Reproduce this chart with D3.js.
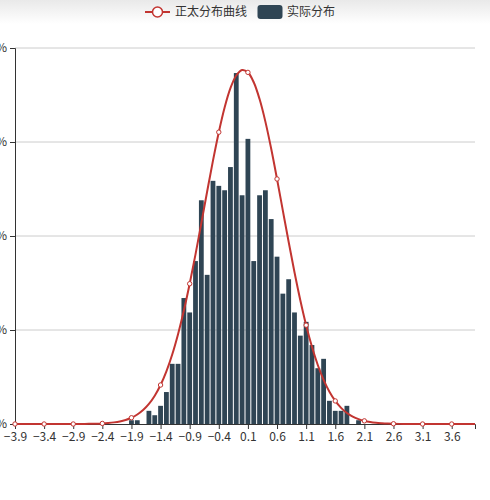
<!DOCTYPE html>
<html>
<head>
<meta charset="utf-8">
<script src="https://cdn.jsdelivr.net/npm/d3@7"></script>
<style>
    body { margin: 0; background: #fff; }
    text { font-family: "Microsoft YaHei", "Noto Sans CJK SC", sans-serif; }
</style>
</head>
<body>
<div id="DistChart"></div>
<script>
// x positions of the histogram bins (bin width 0.1)
var binX = [-1.9, -1.8, -1.7, -1.6, -1.5, -1.4, -1.3, -1.2, -1.1, -1.0,
    -0.9, -0.8, -0.7, -0.6, -0.5, -0.4, -0.3, -0.2, -0.1, 0.0,
    0.1, 0.2, 0.3, 0.4, 0.5, 0.6, 0.7, 0.8, 0.9, 1.0,
    1.1, 1.2, 1.3, 1.4, 1.5, 1.6, 1.7, 1.8, 1.9, 2.0];
// 实际分布 (%)
var binValues = [0.06, 0.06, 0, 0.21, 0.14, 0.29, 0.51, 0.96, 0.96, 2.01,
    1.78, 2.60, 3.57, 2.38, 3.88, 3.80, 3.73, 4.10, 5.60, 3.65,
    4.55, 2.60, 3.65, 3.73, 3.27, 2.67, 2.08, 2.31, 1.78, 1.41,
    1.63, 1.26, 0.89, 1.04, 0.37, 0.21, 0.21, 0.29, 0, 0.06];

// 正太分布曲线 (%), sampled every 0.1 from -3.9 to 4.0
var curveX = d3.range(80).map(function (i) { return (i - 39) / 10; });
var curveValues = [0, 0, 0, 0, 0, 0, 0, 0, 0, 0, 0, 0, 0.001, 0.003,
    0.005, 0.009, 0.016, 0.026, 0.041, 0.065, 0.100, 0.151, 0.222, 0.320,
    0.451, 0.622, 0.840, 1.109, 1.433, 1.810, 2.238, 2.707, 3.205, 3.710,
    4.203, 4.657, 5.051, 5.359, 5.561, 5.648, 5.611, 5.453, 5.185, 4.825,
    4.392, 3.910, 3.406, 2.904, 2.422, 1.976, 1.577, 1.232, 0.941, 0.703,
    0.514, 0.368, 0.258, 0.176, 0.118, 0.078, 0.050, 0.031, 0.019, 0.012,
    0.007, 0.004, 0.002, 0.001,
    0, 0, 0, 0, 0, 0, 0, 0, 0, 0, 0, 0];

var xTicks = [-3.9, -3.4, -2.9, -2.4, -1.9, -1.4, -0.9, -0.4, 0.1, 0.6, 1.1, 1.6, 2.1, 2.6, 3.1, 3.6];
var yTicks = [0, 1.5, 3, 4.5, 6];

var margin = { top: 48, right: 15, bottom: 76, left: 15 },
    width = 490 - margin.left - margin.right,
    height = 500 - margin.top - margin.bottom;

var red = "#c23531", navy = "#2f4554";

var svg = d3.select("#DistChart")
    .append("svg")
    .attr("width", 490)
    .attr("height", 500);

// faint shade across the top
var grad = svg.append("defs").append("linearGradient")
    .attr("id", "topShade").attr("x1", 0).attr("y1", 0).attr("x2", 0).attr("y2", 1);
grad.append("stop").attr("offset", "0%").attr("stop-color", "#e9e9e9");
grad.append("stop").attr("offset", "100%").attr("stop-color", "#ffffff");
svg.append("rect").attr("width", 490).attr("height", 24).attr("fill", "url(#topShade)");

var chart = svg.append("g")
    .attr("transform", "translate(" + margin.left + "," + margin.top + ")");

var xScale = d3.scaleLinear().domain([-3.9, 4.0]).range([0, width]);
var yScale = d3.scaleLinear().domain([0, 6]).range([height, 0]);

// grid lines
chart.selectAll(".grid")
    .data(yTicks.slice(1))
    .enter()
    .append("line")
    .attr("x1", 0).attr("x2", width)
    .attr("y1", function (d) { return yScale(d); })
    .attr("y2", function (d) { return yScale(d); })
    .attr("stroke", "#ccc");

// bars
var barW = 4.8;
chart.selectAll(".bar")
    .data(binX)
    .enter()
    .append("rect")
    .attr("class", "bar")
    .attr("x", function (d) { return xScale(d) - barW / 2; })
    .attr("y", function (d, i) { return yScale(binValues[i]); })
    .attr("width", barW)
    .attr("height", function (d, i) { return height - yScale(binValues[i]); })
    .attr("fill", navy);

//y axis
var yAxis = chart.append("g")
    .call(d3.axisLeft(yScale).tickValues(yTicks).tickSize(5).tickPadding(3)
        .tickFormat(function (d) { return d + "%"; }));
yAxis.select(".domain").attr("stroke", "#333");
yAxis.selectAll("line").attr("stroke", "#333");
yAxis.selectAll("text").attr("fill", "#333").attr("font-size", "12px");

//x axis
var xAxis = chart.append("g")
    .attr("transform", "translate(0," + height + ")")
    .call(d3.axisBottom(xScale).tickValues(xTicks).tickSize(5).tickPadding(3)
        .tickFormat(d3.format(".1f")));
xAxis.select(".domain").attr("stroke", "#333");
xAxis.selectAll("line").attr("stroke", "#333");
xAxis.selectAll("text").attr("fill", "#333").attr("font-size", "12px");

// normal curve
var curvePts = curveX.map(function (x, i) { return [x, curveValues[i]]; });
chart.append("path")
    .datum(curvePts)
    .attr("fill", "none")
    .attr("stroke", red)
    .attr("stroke-width", 2)
    .attr("d", d3.line()
        .x(function (d) { return xScale(d[0]); })
        .y(function (d) { return yScale(d[1]); })
        .curve(d3.curveCatmullRom));

// only every 5th symbol is shown
chart.selectAll(".dot")
    .data(curvePts.filter(function (d, i) { return i % 5 === 0; }))
    .enter()
    .append("circle")
    .attr("cx", function (d) { return xScale(d[0]); })
    .attr("cy", function (d) { return yScale(d[1]); })
    .attr("r", 2.2)
    .attr("fill", "#fff")
    .attr("stroke", red)
    .attr("stroke-width", 1);

// legend
var legend = svg.append("g").attr("transform", "translate(0,12)");
legend.append("line")
    .attr("x1", 145).attr("x2", 170)
    .attr("stroke", red).attr("stroke-width", 2);
legend.append("circle")
    .attr("cx", 157.5).attr("r", 5)
    .attr("fill", "#fff").attr("stroke", red).attr("stroke-width", 1.5);
legend.append("text")
    .attr("x", 175).attr("dy", "0.35em")
    .attr("font-size", "12px").attr("fill", "#333")
    .text("正太分布曲线");
legend.append("rect")
    .attr("x", 257.5).attr("y", -7).attr("width", 25).attr("height", 14).attr("rx", 3)
    .attr("fill", navy);
legend.append("text")
    .attr("x", 287).attr("dy", "0.35em")
    .attr("font-size", "12px").attr("fill", "#333")
    .text("实际分布");
</script>
</body>
</html>
